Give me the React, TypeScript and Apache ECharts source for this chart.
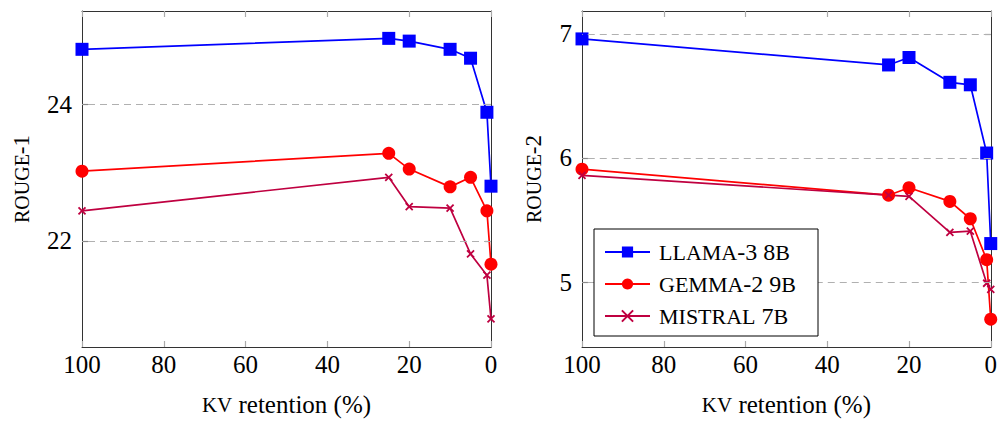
import React, { useEffect, useRef } from "react";
import * as echarts from "echarts";

const retention = [100, 25, 20, 10, 5, 1, 0];
const rouge1Llama = [24.8, 24.96, 24.92, 24.8, 24.67, 23.88, 22.8];
const rouge1Gemma = [23.02, 23.28, 23.05, 22.79, 22.93, 22.44, 21.66];
const rouge1Mistral = [22.44, 22.93, 22.5, 22.48, 21.81, 21.5, 20.86];
const rouge2Llama = [6.96, 6.75, 6.81, 6.61, 6.59, 6.04, 5.31];
const rouge2Gemma = [5.91, 5.7, 5.76, 5.65, 5.51, 5.18, 4.7];
const rouge2Mistral = [5.86, 5.7, 5.69, 5.4, 5.41, 4.99, 4.94];
const rouge1Ticks = [22, 24];
const rouge2Ticks = [5, 6, 7];
const xTicks = [0, 20, 40, 60, 80, 100];
const seriesNames = ["LLAMA-3 8B", "GEMMA-2 9B", "MISTRAL 7B"];
const legendRich: Record<string, string> = {
  "LLAMA-3 8B": "{s|LLAMA}{n|-3 8}{s|B}",
  "GEMMA-2 9B": "{s|GEMMA}{n|-2 9}{s|B}",
  "MISTRAL 7B": "{s|MISTRAL}{n| 7}{s|B}",
};

const FONT = "Liberation Serif";
const BLUE = "#0000ff";
const RED = "#ff0000";
const PURPLE = "#bf0040";
const CROSS = "path://M0,0L10,10M10,0L0,10";

function pair(xs: number[], ys: number[]) {
  return xs.map((x, i) => [x, ys[i]]);
}

export default function App() {
  const ref = useRef<HTMLDivElement>(null);
  useEffect(() => {
    const chart = echarts.init(ref.current!, null, { renderer: "svg" });

    const xAxisBase = (gridIndex: number, top: boolean) => ({
      type: "value",
      gridIndex,
      position: top ? "top" : "bottom",
      min: 0,
      max: 100,
      interval: 20,
      inverse: true,
      axisLine: { show: true, onZero: false, lineStyle: { color: "#333", width: 1 } },
      axisTick: { show: true, inside: true, length: 6, lineStyle: { color: "#aaa", width: 1.2 } },
      axisLabel: top
        ? { show: false }
        : { show: true, customValues: xTicks, margin: 5, color: "#000", fontFamily: FONT, fontSize: 25 },
      splitLine: { show: false },
      name: top ? "" : "{s|KV} retention (%)",
      nameLocation: "middle",
      nameGap: 45,
      nameTextStyle: {
        color: "#000",
        fontFamily: FONT,
        fontSize: 25,
        rich: {
          s: { fontFamily: FONT, fontSize: 21, color: "#000" },
        },
      },
    });

    const yAxisBase = (gridIndex: number, right: boolean, min: number, max: number, ticks: number[], name: string, gap: number) => ({
      type: "value",
      gridIndex,
      position: right ? "right" : "left",
      min,
      max,
      axisLine: { show: true, onZero: false, lineStyle: { color: "#333", width: 1 } },
      axisTick: { show: true, inside: true, length: 6, customValues: ticks, lineStyle: { color: "#888", width: 1.2 } },
      axisLabel: right
        ? { show: false }
        : { show: true, customValues: ticks, margin: 10, color: "#000", fontFamily: FONT, fontSize: 25 },
      splitLine: { show: false },
      name: right ? "" : name,
      nameLocation: "middle",
      nameGap: gap,
      nameRotate: 90,
      nameTextStyle: {
        color: "#000",
        fontFamily: FONT,
        fontSize: 22,
        rich: {
          s: { fontFamily: FONT, fontSize: 20, color: "#000" },
          n: { fontFamily: FONT, fontSize: 23, color: "#000" },
        },
      },
    });

    const gridLines = (vals: number[]) => ({
      silent: true,
      symbol: "none",
      label: { show: false },
      lineStyle: { color: "#b0b0b0", type: [7, 5], width: 1 },
      data: vals.map((v) => ({ yAxis: v })),
    });

    const mk = (name: string, color: string, xi: number, yi: number, ys: number[], gl?: number[]) => {
      const base: any = {
        name,
        type: "line",
        xAxisIndex: xi,
        yAxisIndex: yi,
        data: pair(retention, ys),
        lineStyle: { color, width: 1.7 },
        itemStyle: { color },
        z: 3,
      };
      if (name === seriesNames[0]) {
        base.symbol = "rect";
        base.symbolSize = 13;
      } else if (name === seriesNames[1]) {
        base.symbol = "circle";
        base.symbolSize = 13;
      } else {
        base.symbol = CROSS;
        base.symbolSize = 7;
        base.itemStyle = { color: "none", borderColor: color, borderWidth: 1.8 };
      }
      if (gl) base.markLine = gridLines(gl);
      return base;
    };

    chart.setOption({
      animation: false,
      grid: [
        { left: 82, top: 11, width: 409, height: 336 },
        { left: 582, top: 11, width: 409, height: 336 },
      ],
      xAxis: [xAxisBase(0, false), xAxisBase(0, true), xAxisBase(1, false), xAxisBase(1, true)],
      yAxis: [
        yAxisBase(0, false, 20.45, 25.36, rouge1Ticks, "{s|ROUGE}{n|-1}", 49),
        yAxisBase(0, true, 20.45, 25.36, rouge1Ticks, "", 0),
        yAxisBase(1, false, 4.476, 7.185, rouge2Ticks, "{s|ROUGE}{n|-2}", 37),
        yAxisBase(1, true, 4.476, 7.185, rouge2Ticks, "", 0),
      ],
      legend: {
        data: seriesNames,
        orient: "vertical",
        left: 594,
        top: 229,
        z: 20,
        padding: [11, 22, 8, 10],
        itemGap: 8,
        itemWidth: 45,
        itemHeight: 14,
        backgroundColor: "#fff",
        borderColor: "#000",
        borderWidth: 1,
        borderRadius: 0,
        formatter: (n: string) => legendRich[n] || n,
        textStyle: {
          color: "#000",
          fontFamily: FONT,
          padding: [0, 0, 0, 4],
          rich: {
            s: { fontFamily: FONT, fontSize: 22, color: "#000" },
            n: { fontFamily: FONT, fontSize: 24, color: "#000" },
          },
        },
      },
      series: [
        mk(seriesNames[0], BLUE, 0, 0, rouge1Llama, rouge1Ticks),
        mk(seriesNames[1], RED, 0, 0, rouge1Gemma),
        mk(seriesNames[2], PURPLE, 0, 0, rouge1Mistral),
        mk(seriesNames[0], BLUE, 2, 2, rouge2Llama, rouge2Ticks),
        mk(seriesNames[1], RED, 2, 2, rouge2Gemma),
        mk(seriesNames[2], PURPLE, 2, 2, rouge2Mistral),
      ],
    });
    return () => chart.dispose();
  }, []);
  return (
    <div
      ref={ref}
      style={{ position: "fixed", left: 0, top: 0, width: 1000, height: 422, background: "#fff" }}
    />
  );
}
